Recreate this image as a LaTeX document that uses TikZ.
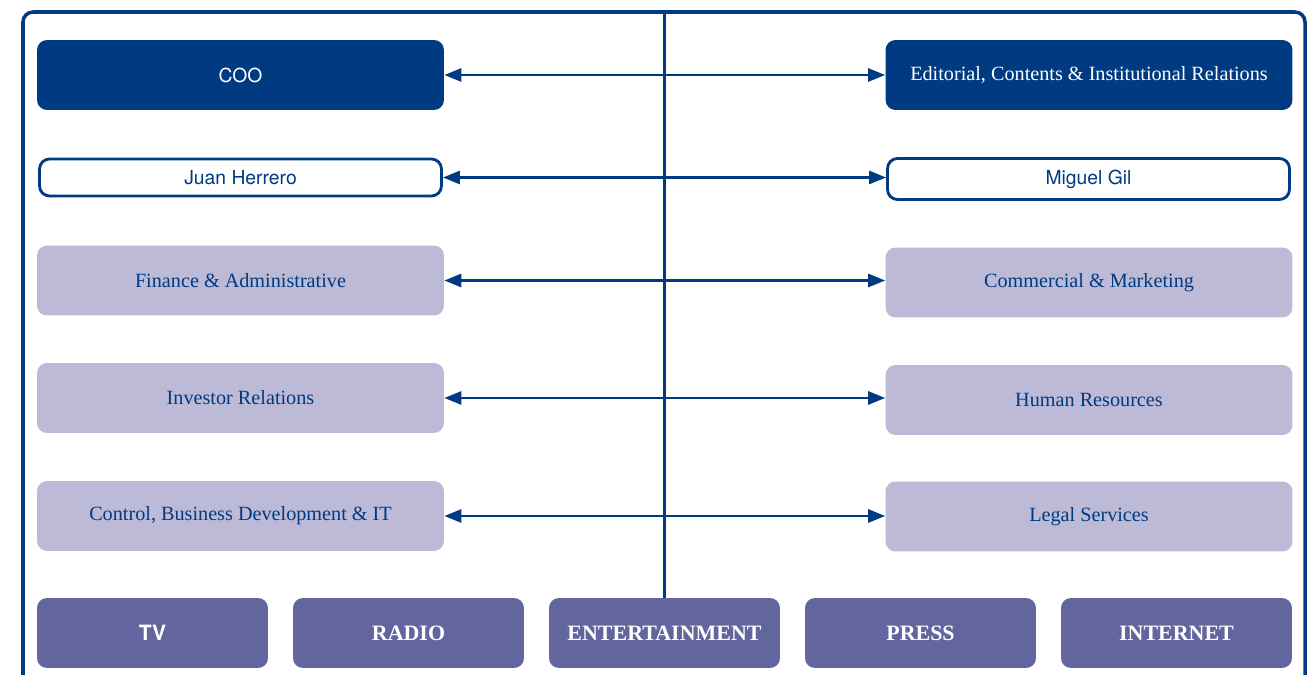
\documentclass[tikz,border=0pt]{standalone}
\usepackage{fontspec}
\setmainfont{Liberation Serif}
\setsansfont{TeX Gyre Heros}
\usetikzlibrary{positioning, calc, arrows.meta}
\definecolor{myblue}{RGB}{0,58,128}
\definecolor{mylilac}{RGB}{189,186,216}
\definecolor{mypurple}{RGB}{99,101,158}
\tikzset{
	unit/.style={
		rounded corners=0.2cm,
		inner sep=0pt,
		minimum width=8.14cm,
		minimum height=1.4cm,
		font=\fontsize{11.5}{13}\selectfont
	},
	head/.style={unit, fill=myblue, text=white},
	person/.style={unit, draw=myblue, line width=1.6pt, fill=white, text=myblue,
		minimum width=8.04cm, minimum height=0.74cm,
		font=\sffamily\fontsize{11}{13}\selectfont},
	dept/.style={unit, fill=mylilac, text=myblue},
	business/.style={unit, fill=mypurple, text=white, minimum width=4.62cm,
		font=\bfseries\fontsize{12.5}{14}\selectfont}
}

\begin{document}
\begin{tikzpicture}[x=0.02cm, y=-0.02cm]
	\tikzset{link/.style={{Triangle[length=0.34cm,width=0.26cm]}-{Triangle[length=0.34cm,width=0.26cm]}, line width=1.5pt, myblue}}
	\useasboundingbox (0,0) rectangle (1316,675);
	
	% frame
	\draw[myblue, line width=2pt, rounded corners=0.2cm] (23,720) -- (23,12) -- (1305,12) -- (1305,720);
	
	\node(coo) at (240.5,75) [head, font=\sffamily\fontsize{11}{13}\selectfont] {COO};
	\node(edit) at (1089,75) [head] {Editorial, Contents \& Institutional Relations};
	
	\node(juan) at (240.5,177.5) [person] {Juan Herrero};
	\node(miguel) at (1088.5,179) [person, minimum height=0.82cm] {Miguel Gil};
	
	\node(fin) at (240.5,280.5) [dept] {Finance \& Administrative};
	\node(comm) at (1089,282.5) [dept] {Commercial \& Marketing};
	
	\node(inv) at (240.5,398) [dept] {Investor Relations};
	\node(hr) at (1089,400) [dept] {Human Resources};
	
	\node(ctrl) at (240.5,516) [dept] {Control, Business Development \& IT};
	\node(legal) at (1089,516.5) [dept] {Legal Services};
	
	\node(tv) at (152.5,633) [business, font=\sffamily\bfseries\fontsize{12}{14}\selectfont] {TV};
	\node(radio) at (408.5,633) [business] {RADIO};
	\node(ent) at (664.5,633) [business] {ENTERTAINMENT};
	\node(press) at (920.5,633) [business] {PRESS};
	\node(web) at (1176.5,633) [business] {INTERNET};
	
	% central line
	\coordinate(top) at (664.5,12);
	\draw[myblue, line width=1.5pt] (ent.north) -- (top);
	
	\draw[link] (coo.east) -- (coo.east -| edit.west);
	\draw[link] (juan.east) -- (juan.east -| miguel.west);
	\draw[link] (fin.east) -- (fin.east -| comm.west);
	\draw[link] (inv.east) -- (inv.east -| hr.west);
	\draw[link] (ctrl.east) -- (ctrl.east -| legal.west);
	
\end{tikzpicture}
\end{document}
